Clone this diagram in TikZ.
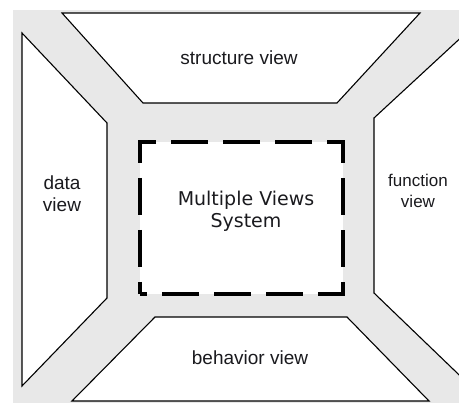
\documentclass[tikz,border=0pt]{standalone}
\usepackage{fontspec}
\setmainfont{Liberation Sans}
\newfontfamily\mvsfont{DejaVu Sans}
\definecolor{bandgray}{RGB}{232,232,232}
\definecolor{inkblack}{RGB}{26,26,30}
\begin{document}
\begin{tikzpicture}[x=1pt,y=-1pt,
  viewshape/.style={draw=black, line width=1.1pt, fill=white, line join=miter},
  lbl/.style={text=inkblack, inner sep=0pt, align=center, font=\fontsize{19}{22}\selectfont},
  mvsbox/.style={draw=black, line width=4pt, fill=white, dash pattern=on 37pt off 15pt, dash phase=30pt, inner sep=0pt, minimum width=203pt, minimum height=152pt},
]
\useasboundingbox (0,0) rectangle (459,403);
\clip (0,0) rectangle (459,403);
\fill[bandgray] (13,10) rectangle (470,410);
% views
\draw[viewshape] (62,13) -- (420,13) -- (337,103) -- (143,103) -- cycle;
\draw[viewshape] (22,33) -- (107,123) -- (107,298) -- (22,386) -- cycle;
\draw[viewshape] (374,118) -- (480,20) -- (480,395) -- (374,293) -- cycle;
\draw[viewshape] (155,317) -- (347,317) -- (429,401) -- (72,401) -- cycle;
% central box
\node[mvsbox] (mvs) at (241.5,218) {};
% labels
\node[lbl, anchor=base] (sv) at (239,65) {structure view};
\node[lbl, anchor=base] (dv) at (62,212) {data\\view};
\node[lbl, anchor=base, font=\fontsize{17}{21}\selectfont] (fv) at (418,208) {function\\view};
\node[lbl, anchor=base] (bv) at (250,365) {behavior view};
\node[lbl, anchor=base, font=\mvsfont\fontsize{19}{22}\selectfont] (mvst) at (246,228) {Multiple Views\\System};
\end{tikzpicture}
\end{document}
